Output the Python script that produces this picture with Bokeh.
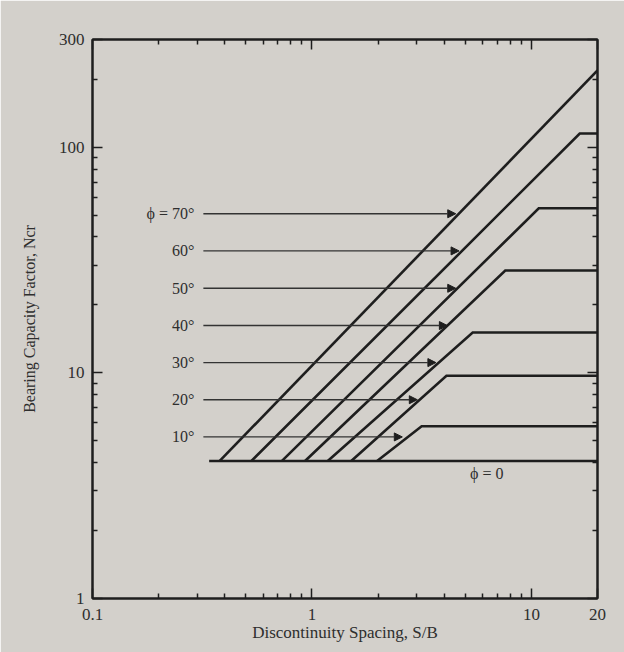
from bokeh.plotting import figure
from bokeh.models import (ColumnDataSource, FixedTicker, LogAxis, NumeralTickFormatter,
                          Arrow, NormalHead, Range1d)
from bokeh.core.properties import value
from bokeh.embed import file_html
from bokeh.resources import INLINE

# ---------------- data ----------------
phi_deg = [70, 60, 50, 40, 30, 20, 10]
phi_labels = ["ϕ = 70°", "60°", "50°", "40°", "30°", "20°", "10°"]
start_sb = [0.38, 0.53, 0.73, 0.93, 1.18, 1.51, 1.98]      # S/B where each line leaves phi=0 line
corner_sb = [20, 16.6, 10.8, 7.6, 5.4, 4.1, 3.16]          # S/B where line becomes flat
plateau_ncr = [219, 115, 53.6, 28.4, 15.1, 9.7, 5.8]       # Ncr of the flat part
base_ncr = 4.07                                            # phi = 0
base_start_sb = 0.34
end_sb = 20
arrow_ncr = [50.7, 34.7, 23.7, 16.2, 11.1, 7.6, 5.2]
arrow_tip_sb = [4.52, 4.68, 4.52, 4.14, 3.67, 3.02, 2.58]
arrow_tail_sb = 0.32

x_major = [0.1, 1, 10, 20]
x_minor = [0.2, 0.3, 0.4, 0.5, 0.6, 0.7, 0.8, 0.9, 2, 3, 4, 5, 6, 7, 8, 9]
y_major = [1, 10, 100, 300]
y_minor = [2, 3, 4, 5, 6, 7, 8, 9, 20, 30, 40, 50, 60, 70, 80, 90, 200]

x_title = "Discontinuity Spacing, S/B"
y_title = "Bearing Capacity Factor, Ncr"

# ---------------- styling ----------------
BG = "#d3d0cb"
INK = "#1e1e1e"
TXT = "#2e2e2e"
FONT = "Liberation Serif"

p = figure(width=624, height=652, x_axis_type="log", y_axis_type="log",
           x_range=Range1d(0.1, 20), y_range=Range1d(1, 300),
           output_backend="svg", toolbar_location=None,
           min_border_left=92, min_border_right=27, min_border_top=39, min_border_bottom=54,
           background_fill_color=BG, border_fill_color=BG)
p.grid.visible = False
p.outline_line_color = INK
p.outline_line_width = 2


def style_axis(ax, major, minor, show_labels, standoff):
    ax.ticker = FixedTicker(ticks=major, minor_ticks=minor)
    ax.formatter = NumeralTickFormatter(format="0.[0]")
    ax.axis_line_color = INK
    ax.axis_line_width = 2
    ax.major_tick_in = 10
    ax.major_tick_out = 0
    ax.minor_tick_in = 5
    ax.minor_tick_out = 0
    ax.major_tick_line_color = INK
    ax.minor_tick_line_color = INK
    ax.major_tick_line_width = 1.5
    ax.minor_tick_line_width = 1.5
    ax.major_label_text_font = FONT
    if show_labels:
        ax.major_label_text_color = TXT
        ax.major_label_text_font_size = "17px"
        ax.major_label_standoff = standoff
    else:
        ax.major_label_text_color = None
        ax.major_label_text_font_size = "9px"
        ax.major_label_standoff = 0
    ax.axis_label_text_font = FONT
    ax.axis_label_text_font_style = "normal"
    ax.axis_label_text_color = TXT


style_axis(p.xaxis[0], x_major, x_minor, True, 10)
style_axis(p.yaxis[0], y_major, y_minor, True, 8)
p.xaxis[0].axis_label = x_title
p.xaxis[0].axis_label_text_font_size = "17px"
p.xaxis[0].axis_label_standoff = 0
p.yaxis[0].axis_label = y_title
p.yaxis[0].axis_label_text_font_size = "16px"
p.yaxis[0].axis_label_standoff = 18

top = LogAxis()
right = LogAxis()
style_axis(top, x_major, x_minor, False, 0)
style_axis(right, y_major, y_minor, False, 0)
p.add_layout(top, "above")
p.add_layout(right, "right")

# ---------------- curves ----------------
xs, ys = [], []
for s, c, pl in zip(start_sb, corner_sb, plateau_ncr):
    xs.append([s, c, end_sb])
    ys.append([base_ncr, pl, pl])
p.multi_line(xs, ys, line_color=INK, line_width=2.6, line_join="miter")
p.line([base_start_sb, end_sb], [base_ncr, base_ncr], line_color=INK, line_width=2.6)

# ---------------- arrows and labels ----------------
asrc = ColumnDataSource(dict(x0=[arrow_tail_sb] * len(arrow_ncr), x1=arrow_tip_sb,
                             y=arrow_ncr, lab=phi_labels))
p.add_layout(Arrow(end=NormalHead(size=8, fill_color=INK, line_color=INK, line_width=1),
                   x_start="x0", y_start="y", x_end="x1", y_end="y", source=asrc,
                   line_color="#333333", line_width=1.4))
p.text(x="x0", y="y", text="lab", source=asrc, x_offset=-9, text_align="right",
       text_baseline="middle", text_font=value(FONT), text_font_size="16px", text_color=TXT)
p.text(x=[6.26], y=[3.58], text=["ϕ = 0"], text_align="center", text_baseline="middle",
       text_font=value(FONT), text_font_size="16px", text_color=TXT)

open("out.html", "w").write(file_html(p, INLINE))
